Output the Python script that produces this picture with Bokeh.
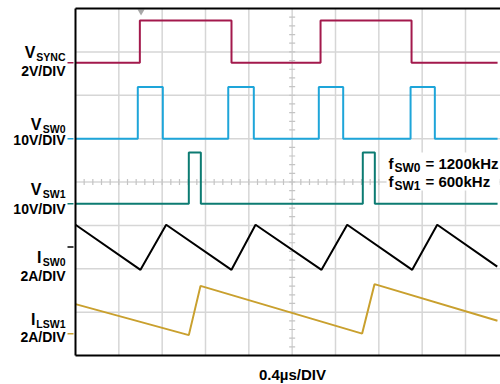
from bokeh.plotting import figure
from bokeh.models import Range1d, Label, BoxAnnotation
from bokeh.embed import file_html
from bokeh.resources import INLINE

# ---------------- data (time in µs) ----------------
T_PER_DIV = 0.4          # 0.4 µs/DIV
T_END = 3.896            # end of captured record

# channel: ground offset (divisions from bottom) and scale (units / div)
sync_offset, sync_scale = 6.75, 2.0     # 2V/DIV
sw0_offset, sw0_scale = 5.0, 10.0       # 10V/DIV
sw1_offset, sw1_scale = 3.5, 10.0       # 10V/DIV
isw0_offset, isw0_scale = 2.5, 2.0      # 2A/DIV
ilsw1_offset, ilsw1_scale = 0.5, 2.0    # 2A/DIV

# square-ish waveforms: alternating rise / fall edge times (µs) and levels
sync_edges = [0.594, 1.440, 2.262, 3.102]
sync_low, sync_high = 0.0, 1.95
sw0_edges = [0.575, 0.806, 1.410, 1.646, 2.246, 2.471, 3.093, 3.317]
sw0_low, sw0_high = 0.0, 11.9
sw1_edges = [1.046, 1.157, 2.652, 2.763]
sw1_low, sw1_high = 0.0, 11.8

# triangular currents
isw0_t = [0.0, 0.600, 0.837, 1.440, 1.662, 2.271, 2.508, 3.108, 3.339, 3.893]
isw0_a = [1.03, -1.05, 1.03, -1.05, 1.03, -1.05, 1.03, -1.05, 1.03, -0.90]
ilsw1_t = [0.0, 1.046, 1.154, 2.646, 2.760, 3.895]
ilsw1_a = [1.37, -0.06, 2.21, 0.01, 2.29, 0.60]

trigger_t = 0.605
N_XDIV, N_YDIV = 10, 8

# ---------------- helpers (pixel -> data for annotation placement) ----------------
W, H = 500, 384
PX_DIV_X = 43.333
PX_DIV_Y = 43.375
LEFT, BOTTOM = 75, 355


def X(px):
    return (px - LEFT) / PX_DIV_X * T_PER_DIV


def Y(py):
    return (BOTTOM - py) / PX_DIV_Y


def steps(edges, low, high):
    xs, ys = [0.0], [low]
    state = low
    for e in edges:
        nxt = high if state == low else low
        xs += [e, e]
        ys += [state, nxt]
        state = nxt
    xs.append(T_END)
    ys.append(state)
    return xs, ys


def to_div(vals, off, scale):
    return [off + v / scale for v in vals]


FONT = "Liberation Sans"
XMAX = X(W)

p = figure(width=W, height=H, output_backend="svg", toolbar_location=None,
           x_range=Range1d(X(0), XMAX), y_range=Range1d(Y(H), Y(0)),
           min_border=0)
p.xaxis.visible = False
p.yaxis.visible = False
p.xgrid.visible = False
p.ygrid.visible = False
p.outline_line_color = None
p.background_fill_color = "white"
p.border_fill_color = "white"

# grid
gx = [T_PER_DIV * i for i in range(1, N_XDIV) if T_PER_DIV * i < XMAX]
p.segment(x0=gx, x1=gx, y0=[0] * len(gx), y1=[N_YDIV] * len(gx),
          line_color="#d6d6d6", line_width=1.5)
gy = list(range(1, N_YDIV))
p.segment(x0=[0] * len(gy), x1=[XMAX] * len(gy), y0=gy, y1=gy,
          line_color="#d6d6d6", line_width=1.5)

# center crosshair minor ticks
cx, cy = 5 * T_PER_DIV, 4
hx = 3 / PX_DIV_X * T_PER_DIV
hy = 3 / PX_DIV_Y
vt = [0.2 * k for k in range(1, 40)]
p.segment(x0=[cx - hx] * len(vt), x1=[cx + hx] * len(vt), y0=vt, y1=vt,
          line_color="#c4c4c4", line_width=1.2)
ht = [T_PER_DIV * 0.2 * k for k in range(1, 50) if T_PER_DIV * 0.2 * k < XMAX]
p.segment(x0=ht, x1=ht, y0=[cy - hy] * len(ht), y1=[cy + hy] * len(ht),
          line_color="#c4c4c4", line_width=1.2)

# traces
xs, ys = steps(sync_edges, sync_low, sync_high)
p.line(xs, to_div(ys, sync_offset, sync_scale), line_color="#a3194c", line_width=2)
xs, ys = steps(sw0_edges, sw0_low, sw0_high)
p.line(xs, to_div(ys, sw0_offset, sw0_scale), line_color="#1ea5d9", line_width=2)
xs, ys = steps(sw1_edges, sw1_low, sw1_high)
p.line(xs, to_div(ys, sw1_offset, sw1_scale), line_color="#0c7b72", line_width=2)
p.line(isw0_t, to_div(isw0_a, isw0_offset, isw0_scale), line_color="black", line_width=2)
p.line(ilsw1_t, to_div(ilsw1_a, ilsw1_offset, ilsw1_scale), line_color="#c9a02e", line_width=2)

# trigger marker
p.scatter([trigger_t], [Y(11)], marker="inverted_triangle", size=7,
          fill_color="#a8a8a8", line_color=None)

# frame borders (left, top, bottom)
p.segment(x0=[0, 0, 0], x1=[0, XMAX, XMAX], y0=[0, N_YDIV, 0], y1=[N_YDIV, N_YDIV, 0],
          line_color="black", line_width=2)

# ground markers at left edge
for off, col in [(sync_offset, "#a3194c"), (sw0_offset, "#1ea5d9"), (sw1_offset, "#0c7b72"),
                 (isw0_offset, "black"), (ilsw1_offset, "#c9a02e")]:
    p.segment(x0=[X(67)], x1=[X(73)], y0=[off], y1=[off], line_color=col, line_width=1.5)


def label(px, py, text, size, align="right"):
    p.add_layout(Label(x=X(px), y=Y(py), text=text, text_font=FONT, text_font_style="bold",
                       text_font_size=size, text_align=align, text_baseline="middle",
                       text_color="black"))


# channel labels: (main, sub, sub width px, centre of main, scale text, centre of scale)
chan_labels = [("V", "SYNC", 29, 52, "2V/DIV", 70),
               ("V", "SW0", 23, 124, "10V/DIV", 139),
               ("V", "SW1", 23, 189, "10V/DIV", 208),
               ("I", "SW0", 23, 257, "2A/DIV", 275),
               ("I", "LSW1", 29, 319, "2A/DIV", 336)]
for main, sub, w, c, sc, c2 in chan_labels:
    label(65, c + 4, sub, "10.5px")
    label(65 - w - 1, c, main, "16px")
    label(65, c2, sc, "14px")

# frequency annotation with white background
p.add_layout(BoxAnnotation(left=X(386), right=X(499), bottom=Y(190), top=Y(152),
                           fill_color="white", fill_alpha=1, line_color=None))
label(388, 163, "f", "15px", "left")
label(394, 167, "SW0", "12px", "left")
label(425, 163, "= 1200kHz", "15px", "left")
label(388, 181, "f", "15px", "left")
label(394, 185, "SW1", "12px", "left")
label(425, 181, "= 600kHz", "15px", "left")

label(292, 374, "0.4µs/DIV", "15px", "center")

open("out.html", "w").write(file_html(p, INLINE))
